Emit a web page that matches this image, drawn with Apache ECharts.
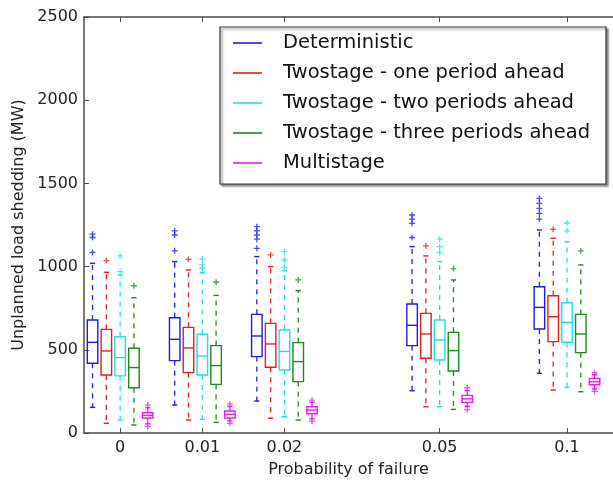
<!DOCTYPE html>
<html>
<head>
<meta charset="utf-8">
<script src="https://cdn.jsdelivr.net/npm/echarts@6/dist/echarts.min.js"></script>
<style>
  html, body { margin: 0; padding: 0; background: #fff; }
  #chart { width: 613px; height: 483px; }
</style>
</head>
<body>
<div id="chart"></div>
<script>
// Failure probabilities shown on the x axis
const probabilities = ['0', '0.01', '0.02', '0.05', '0.1'];

const seriesNames = [
  'Deterministic',
  'Twostage - one period ahead',
  'Twostage - two periods ahead',
  'Twostage - three periods ahead',
  'Multistage'
];

// Box statistics in MW: [lower whisker, Q1, median, Q3, upper whisker], one row per probability
const deterministicBoxes = [
  [154, 419, 545, 679, 1020],
  [168, 435, 563, 693, 1030],
  [192, 459, 583, 713, 1060],
  [254, 525, 647, 775, 1120],
  [359, 625, 755, 879, 1220]
];
const deterministicOutliers = [
  [1085, 1175, 1195],
  [1095, 1190, 1215],
  [1110, 1165, 1190, 1215, 1240],
  [1175, 1260, 1285, 1310],
  [1285, 1320, 1350, 1380, 1410]
];

const oneAheadBoxes = [
  [58, 349, 493, 623, 966],
  [78, 363, 511, 635, 980],
  [88, 395, 535, 659, 1000],
  [158, 449, 595, 719, 1064],
  [258, 549, 699, 825, 1170]
];
const oneAheadOutliers = [[1036], [1044], [1070], [1124], [1224]];

const twoAheadBoxes = [
  [78, 343, 453, 579, 950],
  [82, 349, 463, 593, 965],
  [98, 379, 490, 619, 975],
  [158, 439, 559, 679, 1030],
  [274, 545, 665, 783, 1150]
];
const twoAheadOutliers = [
  [970, 1065],
  [990, 1010, 1045],
  [995, 1040, 1090],
  [1085, 1120, 1165],
  [1215, 1262]
];

const threeAheadBoxes = [
  [48, 272, 393, 509, 813],
  [64, 292, 405, 525, 827],
  [78, 309, 429, 543, 855],
  [142, 373, 495, 605, 920],
  [248, 483, 595, 713, 1010]
];
const threeAheadOutliers = [[885], [906], [920], [988], [1094]];

const multistageBoxes = [
  [55, 90, 106, 122, 152],
  [72, 90, 112, 132, 160],
  [85, 116, 138, 158, 185],
  [160, 184, 205, 226, 255],
  [265, 290, 308, 328, 350]
];
const multistageOutliers = [[38, 168], [58, 175], [70, 198], [140, 272], [250, 362]];

// Layout: slot centre of each probability group on the x scale, box spacing and widths
const slotCenters = [1, 2, 3, 4.89, 6.44];
const boxStep = 0.168;
const boxHalfWidth = 0.064;
const colors = ['#1c1ce8', '#e81c1c', '#1ee0e0', '#1b8a1b', '#e81ce8'];
const fontFamily = 'DejaVu Sans';
const axisColor = '#4a4a4a';

const allBoxes = [deterministicBoxes, oneAheadBoxes, twoAheadBoxes, threeAheadBoxes, multistageBoxes];
const allOutliers = [deterministicOutliers, oneAheadOutliers, twoAheadOutliers, threeAheadOutliers, multistageOutliers];

function boxCenter(groupIndex, seriesIndex) {
  return slotCenters[groupIndex] + (seriesIndex - 2) * boxStep;
}

function makeBoxSeries(k) {
  const color = colors[k];
  return {
    type: 'custom',
    name: seriesNames[k],
    itemStyle: { color: color },
    encode: { x: 0, y: [1, 2, 3, 4, 5] },
    data: allBoxes[k].map((b, g) => [boxCenter(g, k)].concat(b)),
    renderItem: function (params, api) {
      const cx = api.value(0);
      const low = api.coord([cx, api.value(1)]);
      const q1 = api.coord([cx, api.value(2)]);
      const med = api.coord([cx, api.value(3)]);
      const q3 = api.coord([cx, api.value(4)]);
      const high = api.coord([cx, api.value(5)]);
      const hw = api.size([boxHalfWidth, 0])[0];
      const cw = hw * 0.5;
      const x = low[0];
      const solid = { stroke: color, lineWidth: 1.4, fill: null };
      const dashed = { stroke: color, lineWidth: 1.3, lineDash: [5, 5], fill: null };
      return {
        type: 'group',
        children: [
          { type: 'line', shape: { x1: x, y1: q3[1], x2: x, y2: high[1] }, style: dashed },
          { type: 'line', shape: { x1: x, y1: q1[1], x2: x, y2: low[1] }, style: dashed },
          { type: 'line', shape: { x1: x - cw, y1: high[1], x2: x + cw, y2: high[1] }, style: solid },
          { type: 'line', shape: { x1: x - cw, y1: low[1], x2: x + cw, y2: low[1] }, style: solid },
          { type: 'rect', shape: { x: x - hw, y: q3[1], width: 2 * hw, height: q1[1] - q3[1] }, style: solid },
          { type: 'line', shape: { x1: x - hw, y1: med[1], x2: x + hw, y2: med[1] }, style: solid }
        ]
      };
    }
  };
}

function makeOutlierSeries(k) {
  const pts = [];
  allOutliers[k].forEach((vals, g) => vals.forEach(v => pts.push([boxCenter(g, k), v])));
  return {
    type: 'scatter',
    id: 'outliers-' + k,
    data: pts,
    symbol: 'path://M5 0L5 10M0 5L10 5',
    symbolSize: 6,
    silent: true,
    itemStyle: { color: 'none', borderColor: colors[k], borderWidth: 1.3 }
  };
}

const series = [];
for (let k = 0; k < 5; k++) series.push(makeBoxSeries(k));
for (let k = 0; k < 5; k++) series.push(makeOutlierSeries(k));

const xMin = 0.56, xMax = 7;
const tickText = { fontFamily: fontFamily, fontSize: 16, color: '#222' };

const option = {
  animation: false,
  backgroundColor: '#fff',
  grid: { left: 84, top: 17, bottom: 50, right: -12 },
  legend: {
    data: seriesNames,
    orient: 'vertical',
    left: 220,
    top: 27,
    padding: [6, 16, 11, 13],
    itemGap: 10,
    itemWidth: 29,
    itemHeight: 1.6,
    icon: 'rect',
    selectedMode: false,
    backgroundColor: '#fff',
    borderColor: '#333',
    borderWidth: 1.2,
    shadowColor: 'rgba(0,0,0,0.45)',
    shadowBlur: 2,
    shadowOffsetX: 2,
    shadowOffsetY: 2,
    textStyle: { fontFamily: fontFamily, fontSize: 19.5, color: '#111', lineHeight: 20, padding: [0, 0, 0, 16] }
  },
  xAxis: [
    {
      type: 'value', min: xMin, max: xMax, position: 'bottom',
      axisLine: { show: true, lineStyle: { color: axisColor, width: 1.5 } },
      axisTick: { show: true, inside: true, length: 5, customValues: slotCenters, lineStyle: { color: axisColor } },
      axisLabel: {
        customValues: slotCenters, margin: 7, ...tickText,
        formatter: v => {
          const i = slotCenters.findIndex(s => Math.abs(s - v) < 1e-6);
          return i >= 0 ? probabilities[i] : '';
        }
      },
      splitLine: { show: false },
      name: 'Probability of failure', nameLocation: 'middle', nameGap: 29,
      nameTextStyle: { fontFamily: fontFamily, fontSize: 16, color: '#222' }
    },
    {
      type: 'value', min: xMin, max: xMax, position: 'top',
      axisLine: { show: true, lineStyle: { color: axisColor, width: 1.5 } },
      axisTick: { show: true, inside: true, length: 5, customValues: slotCenters, lineStyle: { color: axisColor } },
      axisLabel: { show: false },
      splitLine: { show: false }
    }
  ],
  yAxis: {
    type: 'value', min: 0, max: 2500, interval: 500,
    axisLine: { show: true, lineStyle: { color: axisColor, width: 1.5 } },
    axisTick: { show: true, inside: true, length: 5, lineStyle: { color: axisColor } },
    axisLabel: { margin: 6, ...tickText, formatter: v => String(v) },
    splitLine: { show: false },
    name: 'Unplanned load shedding (MW)', nameLocation: 'middle', nameGap: 50, nameRotate: 90,
    nameTextStyle: { fontFamily: fontFamily, fontSize: 16, color: '#222' }
  },
  series: series
};

const chart = echarts.init(document.getElementById('chart'), null, { renderer: 'canvas' });
chart.setOption(option);
</script>
</body>
</html>
